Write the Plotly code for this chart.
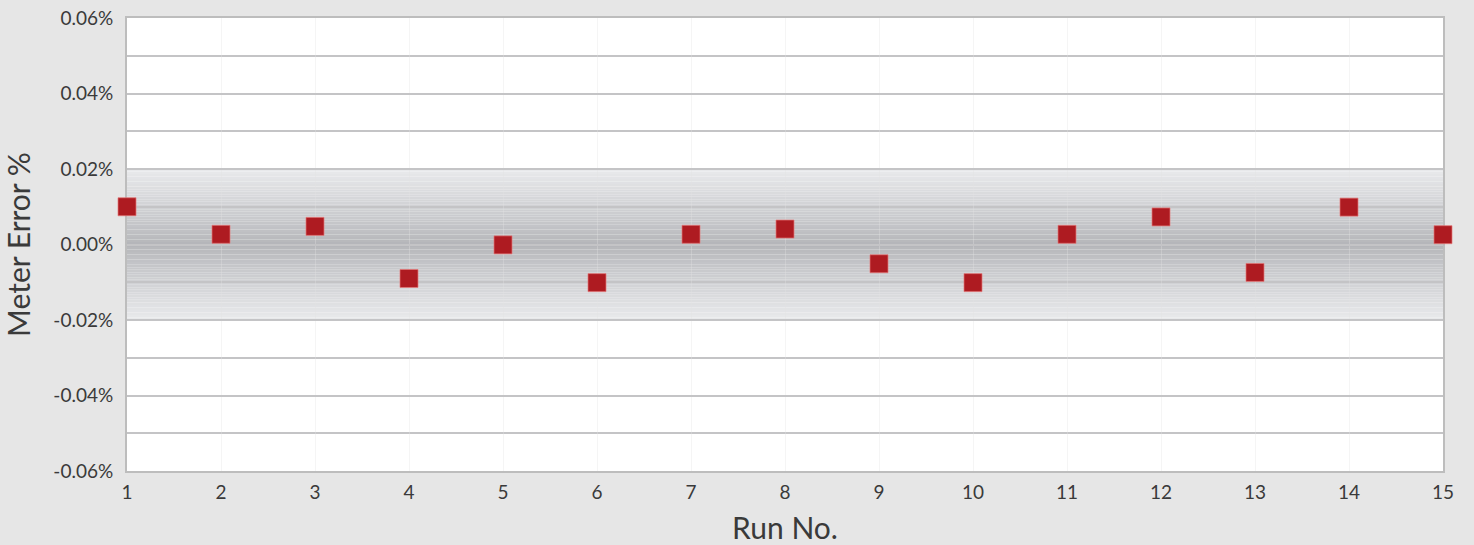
import plotly.graph_objects as go

runs = list(range(1, 16))
meter_error = [0.010, 0.0027, 0.0048, -0.0090, -0.0001, -0.0101, 0.0027, 0.0041,
               -0.0051, -0.0101, 0.0027, 0.0073, -0.0074, 0.0099, 0.0026]
band_limits = [-0.02, 0.02]
y_ticks = [-0.06, -0.04, -0.02, 0.0, 0.02, 0.04, 0.06]
y_tick_text = [f"{v:.2f}%" for v in y_ticks]

FONT = "Lato, 'Open Sans', sans-serif"
TXT = "#3a3a3a"

fig = go.Figure()

# gradient band built from thin stacked rectangles (below gridlines)
n = 60
lo, hi = band_limits
edge = (233, 234, 236)
center = (180, 181, 185)
for i in range(n):
    y0 = lo + (hi - lo) * i / n
    y1 = lo + (hi - lo) * (i + 1) / n
    mid = (y0 + y1) / 2
    t = abs(mid) / hi  # 0 at centre, 1 at edge
    t = t ** 0.9
    c = tuple(round(center[k] + (edge[k] - center[k]) * t) for k in range(3))
    fig.add_shape(type="rect", xref="x", yref="y", x0=runs[0], x1=runs[-1],
                  y0=y0, y1=y1, line=dict(width=0),
                  fillcolor=f"rgb{c}", layer="below")

fig.add_trace(go.Scatter(
    x=runs, y=meter_error, mode="markers",
    marker=dict(symbol="square", size=18, color="#AE1B21",
                line=dict(color="rgba(230,120,120,0.7)", width=1)),
    cliponaxis=False, showlegend=False,
))

fig.update_layout(
    width=1474, height=545,
    margin=dict(l=127, r=31, t=18, b=74),
    paper_bgcolor="#E6E6E6",
    plot_bgcolor="#FFFFFF",
    font=dict(family=FONT, color=TXT),
)

fig.update_xaxes(
    range=[1, 15], tickmode="array", tickvals=runs, ticktext=[str(r) for r in runs],
    showgrid=True, gridcolor="rgba(225,225,225,0.35)", gridwidth=1,
    showline=True, linecolor="#BDBDBD", linewidth=2, mirror=True,
    layer="below traces",
    zeroline=False, ticks="", tickfont=dict(size=19, color=TXT),
    ticklabelstandoff=3,
    title=dict(text="Run No.", font=dict(size=30, color=TXT), standoff=21),
    automargin=False,
)

fig.update_yaxes(
    range=[-0.06, 0.06], tickmode="array", tickvals=y_ticks, ticktext=y_tick_text,
    showgrid=True, gridcolor="#C4C4C6", gridwidth=1.5,
    minor=dict(dtick=0.01, tick0=0, showgrid=True, gridcolor="#C4C4C6", gridwidth=1.5),
    showline=True, linecolor="#BDBDBD", linewidth=2, mirror=True,
    layer="below traces",
    zeroline=False, ticks="", tickfont=dict(size=19, color=TXT),
    ticklabelstandoff=8,
    title=dict(text="Meter Error %", font=dict(size=30, color=TXT), standoff=14),
    automargin=False,
)

fig.write_html("out.html", config={"displayModeBar": False})

# remove default page margin so the figure fills the window exactly
with open("out.html", "r", encoding="utf-8") as f:
    html = f.read()
html = html.replace("<head>", "<head><style>html,body{margin:0;padding:0;background:#E6E6E6;overflow:hidden}</style>", 1)
with open("out.html", "w", encoding="utf-8") as f:
    f.write(html)
